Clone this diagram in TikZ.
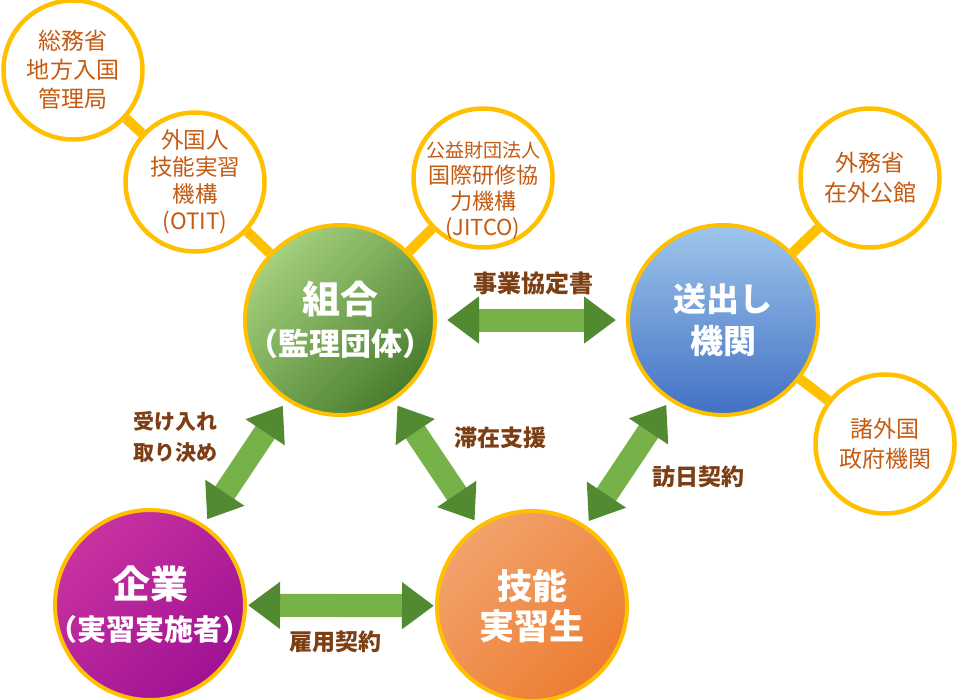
\documentclass[tikz,border=0pt]{standalone}
\usepackage{fontspec}
\setmainfont{Noto Sans CJK JP}
\usetikzlibrary{arrows.meta}

\definecolor{gold}{RGB}{255,192,0}
\definecolor{orgtext}{RGB}{197,90,17}
\definecolor{lbltext}{RGB}{125,62,20}
\definecolor{shaft}{RGB}{118,178,72}
\definecolor{tip}{RGB}{82,138,50}
\definecolor{greenL}{RGB}{165,208,125}
\definecolor{greenM}{RGB}{112,170,68}
\definecolor{greenD}{RGB}{72,125,45}
\definecolor{blueL}{RGB}{158,198,235}
\definecolor{blueM}{RGB}{88,142,212}
\definecolor{blueD}{RGB}{66,112,196}
\definecolor{purpL}{RGB}{200,50,160}
\definecolor{purpD}{RGB}{160,18,148}
\definecolor{orngL}{RGB}{242,162,108}
\definecolor{orngD}{RGB}{237,125,49}

\begin{document}
\begin{tikzpicture}[x=1pt,y=-1pt,
  org/.style={circle, draw=gold, line width=4.5pt, fill=white, minimum size=139pt,
    inner sep=0pt, align=center, text=orgtext, font=\fontsize{23}{29}\selectfont},
  hub/.style={circle, draw=gold, line width=4pt, minimum size=190pt, inner sep=-18pt,
    align=center, text=white, font=\bfseries\fontsize{38}{42}\selectfont},
  link/.style={draw=gold, line width=10pt},
  fat/.style={draw=shaft, line width=23pt,
    {Triangle[length=32pt,width=45pt,color=tip]}-{Triangle[length=32pt,width=45pt,color=tip]},
    shorten <=#1, shorten >=#1},
  fat/.default=6pt,
  lbl/.style={text=lbltext, align=center, font=\bfseries\fontsize{23}{31}\selectfont}]
\useasboundingbox (0,0) rectangle (960,699);

% main partners
\node[hub, top color=greenL, middle color=greenM, bottom color=greenD, shading angle=45]
  (kumiai) at (340,320) {組合\\{\fontsize{31}{34}\selectfont （監理団体）}};
\node[hub, top color=blueL, middle color=blueM, bottom color=blueD,
  font=\bfseries\fontsize{33}{42}\selectfont] (okuri) at (723,320) {送出し\\機関};
\node[hub, top color=purpL, middle color=purpD, bottom color=purpD, shading angle=45]
  (kigyo) at (150,605) {企業\\{\fontsize{29}{32}\selectfont （実習実施者）}};
\node[hub, top color=orngL, middle color=orngD, bottom color=orngD, shading angle=45,
  font=\bfseries\fontsize{35}{40}\selectfont] (jisshu) at (532,606) {技能\\実習生};

% supervising bodies
\node[org] (somu) at (73,70) {総務省\\地方入国\\管理局};
\node[org, font=\fontsize{22.5}{27}\selectfont] (otit) at (195,182) {外国人\\技能実習\\機構\\(OTIT)};
\node[org] (jitco) at (483,178) {};
\node[text=orgtext, align=center, font=\fontsize{22}{26}\selectfont] (jitcotxt) at (483,191)
  {{\fontsize{19}{20}\selectfont 公益財団法人}\\国際研修協\\力機構\\(JITCO)};
\node[org, font=\fontsize{23}{30}\selectfont] (gaimu) at (870,178) {外務省\\在外公館};
\node[org, font=\fontsize{23}{30}\selectfont] (shogai) at (885,444) {諸外国\\政府機関};

\draw[link] (somu) -- (otit);
\draw[link] (otit) -- (kumiai);
\draw[link] (jitco) -- (kumiai);
\draw[link] (gaimu) -- (okuri);
\draw[link] (shogai) -- (okuri);

% contracts
\draw[fat=10pt] (kumiai) -- (okuri);
\draw[fat] (kumiai) -- (kigyo);
\draw[fat] (kumiai) -- (jisshu);
\draw[fat=5pt] (okuri) -- (jisshu);
\draw[fat=1pt] (kigyo) -- (jisshu);

\node[lbl, font=\bfseries\fontsize{24}{30}\selectfont] (jigyo) at (533,283) {事業協定書};
\node[lbl, font=\bfseries\fontsize{21}{31}\selectfont] (ukeire) at (175,437) {受け入れ\\取り決め};
\node[lbl] (taizai) at (500,438) {滞在支援};
\node[lbl] (honichi) at (698,477) {訪日契約};
\node[lbl] (koyo) at (335,642) {雇用契約};
\end{tikzpicture}
\end{document}
